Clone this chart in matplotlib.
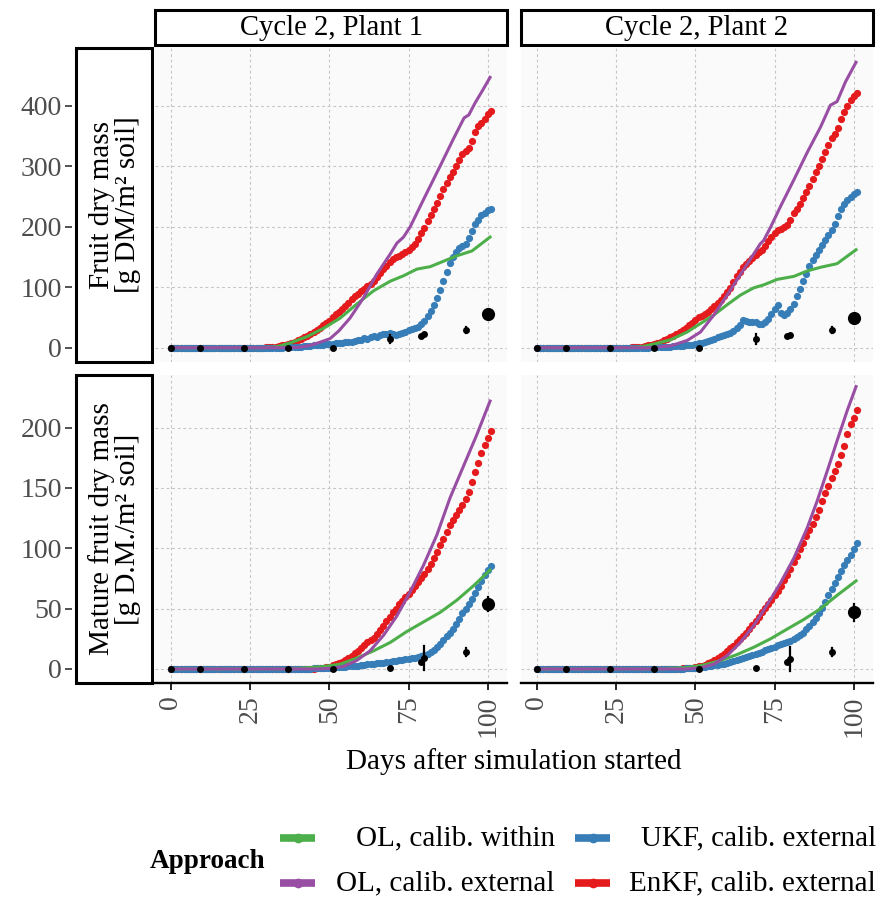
import matplotlib
matplotlib.use("Agg")
import matplotlib.pyplot as plt
from matplotlib.patches import Rectangle
from matplotlib.lines import Line2D

# ---------------- data ----------------
# daily series (index = day after simulation start)
c2p1_fruit_enkf = [0] * 30 + [
    0.5, 1, 1.5, 2, 3, 4, 5, 6.5, 8, 10,
    12, 14.5, 17, 20, 23, 26, 29.5, 33, 37, 41,
    45, 50, 55, 59, 64, 69, 74, 80, 85, 89,
    93, 97, 102, 106, 111, 117, 124, 130, 135, 141,
    146, 150, 152, 155, 158, 161, 166, 172, 180, 189,
    198, 209, 219, 229, 240, 251, 262, 273, 282, 291,
    300, 310, 320, 325, 330, 342, 356, 366, 372, 379,
    386, 391]
c2p1_fruit_ukf = [0] * 36 + [
    0.5, 1, 1, 1.5,
    2, 2, 3, 3, 3.5, 4, 4, 5, 5, 5.5,
    6, 6.5, 7, 8, 8, 9, 9.5, 10, 11, 12,
    13, 16, 15, 18, 20, 18, 21, 23, 22, 25,
    23, 21, 23, 24, 26, 29, 31, 33, 35, 39,
    45, 52, 60, 71, 82, 96, 110, 126, 140, 150,
    158, 165, 168, 172, 182, 193, 204, 212, 219, 223,
    227, 230]
c2p2_fruit_enkf = [0] * 30 + [
    0.5, 1, 1.5, 2, 3, 4, 5, 6, 8, 10,
    12, 14, 17, 20, 23, 26, 29, 32, 37, 41,
    46, 50, 53, 56, 59, 64, 69, 74, 79, 86,
    92, 99, 108, 118, 126, 133, 139, 144, 148, 153,
    158, 162, 168, 176, 183, 190, 195, 197, 199, 203,
    212, 222, 230, 238, 248, 258, 268, 279, 290, 300,
    312, 324, 336, 346, 354, 364, 378, 390, 400, 410,
    417, 422]
c2p2_fruit_ukf = [0] * 36 + [
    0.5, 1, 1, 1.5,
    1.5, 2, 2, 2.5, 3, 3, 3.5, 4, 4.5, 5,
    6, 7, 8, 10, 11, 13, 15, 17, 19, 21,
    23, 25, 28, 32, 38, 46, 44, 42, 43, 42,
    40, 40, 42, 48, 55, 64, 70, 57, 54, 57,
    64, 73, 86, 97, 110, 122, 135, 145, 154, 162,
    170, 178, 186, 195, 205, 218, 230, 238, 245, 250,
    255, 258]
c2p1_mature_enkf = [0] * 45 + [
    0.3, 0.5, 0.8, 1.2, 1.6,
    2, 3, 4, 5, 6, 7.5, 9, 11, 13, 15,
    17, 19.5, 22, 24, 26, 29, 32.5, 36, 40, 43.5,
    47, 50, 53.5, 56.5, 59.5, 62.5, 65.5, 69, 72, 75.5,
    79, 83, 87, 92, 97, 102.5, 108, 113.5, 119, 123.5,
    128, 132, 136, 141, 147, 155, 163, 171, 179, 185.5,
    191, 197]
c2p1_mature_ukf = [0] * 41 + [
    0.1, 0.2, 0.3, 0.4, 0.5, 0.6, 0.7, 0.8, 0.9,
    1.0, 1.1, 1.3, 1.5, 1.7, 1.9, 2.1, 2.3, 2.6, 2.9,
    3.2, 3.5, 3.8, 4.1, 4.4, 4.7, 5.0, 5.3, 5.7, 6.0,
    6.4, 6.8, 7.2, 7.6, 8.0, 8.5, 9, 9.5, 10, 10.7,
    11.5, 12.5, 14, 16, 18, 21, 24, 27, 29.5, 33,
    37, 41.5, 46, 50, 54, 58, 63, 68, 73, 78,
    82, 85]
c2p2_mature_enkf = [0] * 45 + [
    0.3, 0.5, 0.7, 1, 1.2,
    1.6, 2.2, 2.8, 3.6, 4.6, 5.8, 7.2, 8.8, 10.8, 12.8,
    14.8, 17, 19, 22, 24.5, 27, 30, 33, 36.5, 40,
    43.5, 47, 50.5, 54, 57.5, 61.5, 65, 69, 73.5, 78,
    83, 88.5, 94, 99.5, 104.5, 110, 115, 120, 126, 132,
    139, 146, 152, 158, 164, 170, 177, 185, 195, 203,
    208, 215]
c2p2_mature_ukf = [0] * 43 + [
    0.1, 0.2, 0.3, 0.4, 0.5, 0.6, 0.8,
    1.0, 1.2, 1.5, 1.8, 2.2, 2.6, 3.0, 3.5, 4.0, 4.5,
    5.0, 5.7, 6.4, 7.2, 8.0, 8.8, 9.6, 10.5, 11.5, 12.5,
    13.5, 14.5, 15.5, 16.5, 17.5, 18.5, 19.5, 20.5, 21.5, 22.5,
    23.5, 25, 26.5, 28, 30, 33, 36, 39, 42, 46,
    50.5, 55.5, 61, 66, 71, 76, 81, 86, 90, 94.5,
    99.5, 104]

# open-loop lines (read at knots)
c2p1_fruit_olext_x = [0, 38, 41, 44, 47, 50.2, 53, 56.5, 60.7, 65, 69.2, 71.3, 73.4, 75.5, 79.7, 85, 89.2, 92.5, 94, 96, 98.5, 100.7]
c2p1_fruit_olext_y = [0, 0, 1, 4, 9, 15, 28, 49, 82, 122, 155, 173, 183, 200, 245, 301, 346, 380, 385, 405, 427, 447]
c2p1_fruit_olwith_x = [0, 30, 33, 37.6, 42.8, 48.1, 53.4, 58.6, 63.9, 69.2, 73.4, 77.6, 81.8, 86, 90.2, 95, 100.7]
c2p1_fruit_olwith_y = [0, 0, 1, 8, 18, 32, 49, 72, 94, 110, 119, 130, 134, 143, 152, 160, 183]
c2p2_fruit_olext_x = [0, 35, 38, 42.1, 47.4, 51.6, 55.8, 60, 64.2, 68.4, 70.5, 71.5, 73.7, 76.8, 81.1, 85.3, 89.5, 92.6, 94.7, 97.4, 100.7]
c2p2_fruit_olext_y = [0, 0, 1, 3, 12, 26, 54, 87, 121, 155, 172, 177, 199, 233, 278, 323, 365, 401, 407, 440, 472]
c2p2_fruit_olwith_x = [0, 30, 33, 36.8, 42.1, 47.4, 51.6, 55.8, 60, 64.2, 68.4, 71.6, 75.8, 81.1, 85.3, 89.5, 94.7, 100.7]
c2p2_fruit_olwith_y = [0, 0, 1.5, 6, 13, 26, 40, 54, 71, 87, 99, 104, 113, 118, 127, 133, 139, 162]
c2p1_mature_olext_x = [0, 46, 50, 54.4, 58.6, 62.8, 67.1, 71.3, 75.5, 79.7, 83.9, 88.1, 92.3, 96.5, 100.7]
c2p1_mature_olext_y = [0, 0, 0.5, 2, 7, 15, 28, 44, 64, 86, 111, 142, 168, 194, 222]
c2p1_mature_olwith_x = [0, 38, 42.8, 48.1, 53.4, 58.6, 63.9, 69.2, 74.4, 79.7, 85, 90.2, 95.5, 100.7]
c2p1_mature_olwith_y = [0, 0, 1, 2, 4, 9, 15, 22, 31, 39, 47, 57, 69, 82]
c2p2_mature_olext_x = [0, 47, 51.6, 55.8, 60, 64.2, 68.4, 72.6, 76.8, 81.1, 85.3, 88.4, 91.6, 94.7, 97.9, 100.7]
c2p2_mature_olext_y = [0, 0, 1, 4, 11, 22, 36, 53, 71, 92, 117, 139, 164, 189, 214, 234]
c2p2_mature_olwith_x = [0, 40, 42.1, 47.4, 52.6, 57.9, 63.2, 68.4, 73.7, 78.9, 84.2, 89.5, 94.7, 100.7]
c2p2_mature_olwith_y = [0, 0, 0.5, 1.1, 3.3, 7, 12, 18, 25, 33, 41, 50, 61, 73]

# observations
obs_days = [0, 9, 23, 37, 51, 69, 79, 80, 93, 100]
obs_size = [5, 5, 5, 5, 5, 5, 5, 5, 5, 9.5]
c2p1_fruit_obs = [0, 0, 0, 0, 0, 14, 19, 22, 30, 56]
c2p1_fruit_err = [0, 0, 0, 0, 0, 7, 0, 2, 5, 0]
c2p2_fruit_obs = [0, 0, 0, 0, 0, 14, 19, 21, 29, 49]
c2p2_fruit_err = [0, 0, 0, 0, 0, 8, 0, 2, 5, 3]
c2p1_mature_obs = [0, 0, 0, 0, 0, 1, 6, 9, 14, 54]
c2p1_mature_err = [0, 0, 0, 0, 0, 0, 0, 10, 3, 6]
c2p2_mature_obs = [0, 0, 0, 0, 0, 1, 6, 8, 14, 47]
c2p2_mature_err = [0, 0, 0, 0, 0, 0, 0, 10, 3, 7]

col_titles = ["Cycle 2, Plant 1", "Cycle 2, Plant 2"]
row_titles = ["Fruit dry mass\n[g DM/m\u00b2 soil]", "Mature fruit dry mass\n[g D.M./m\u00b2 soil]"]
x_ticks = [0, 25, 50, 75, 100]
y_ticks_fruit = [0, 100, 200, 300, 400]
y_ticks_mature = [0, 50, 100, 150, 200]
approaches = ["OL, calib. within", "OL, calib. external", "UKF, calib. external", "EnKF, calib. external"]
colors = {"OL, calib. within": "#4DAF4A", "OL, calib. external": "#984EA3",
          "UKF, calib. external": "#377EB8", "EnKF, calib. external": "#E41A1C"}

# ---------------- figure ----------------
plt.rcParams["font.family"] = ["Liberation Serif", "DejaVu Serif"]
W, H = 876, 901
fig = plt.figure(figsize=(W / 100, H / 100), dpi=100)


def rect(x0, y0, x1, y1):
    return [x0 / W, 1 - y1 / H, (x1 - x0) / W, (y1 - y0) / H]


panel_x = [(155, 507), (521, 873)]
panel_y = [(48, 362), (375, 683)]
ylims = [(-23.6, 495.6), (-11.6, 243.6)]
yticks = [y_ticks_fruit, y_ticks_mature]

panels = {
    (0, 0): (c2p1_fruit_enkf, c2p1_fruit_ukf, c2p1_fruit_olext_x, c2p1_fruit_olext_y,
             c2p1_fruit_olwith_x, c2p1_fruit_olwith_y, c2p1_fruit_obs, c2p1_fruit_err),
    (0, 1): (c2p2_fruit_enkf, c2p2_fruit_ukf, c2p2_fruit_olext_x, c2p2_fruit_olext_y,
             c2p2_fruit_olwith_x, c2p2_fruit_olwith_y, c2p2_fruit_obs, c2p2_fruit_err),
    (1, 0): (c2p1_mature_enkf, c2p1_mature_ukf, c2p1_mature_olext_x, c2p1_mature_olext_y,
             c2p1_mature_olwith_x, c2p1_mature_olwith_y, c2p1_mature_obs, c2p1_mature_err),
    (1, 1): (c2p2_mature_enkf, c2p2_mature_ukf, c2p2_mature_olext_x, c2p2_mature_olext_y,
             c2p2_mature_olwith_x, c2p2_mature_olwith_y, c2p2_mature_obs, c2p2_mature_err),
}

for (r, c), (enkf, ukf, oex, oey, owx, owy, obs, err) in panels.items():
    ax = fig.add_axes(rect(panel_x[c][0], panel_y[r][0], panel_x[c][1], panel_y[r][1]))
    ax.set_facecolor("#FAFAFA")
    ax.set_xlim(-5.05, 106.05)
    ax.set_ylim(*ylims[r])
    ax.set_xticks(x_ticks)
    ax.set_yticks(yticks[r])
    ax.grid(True, color="#C6C6C6", linestyle=(0, (2.5, 2.5)), linewidth=0.8)
    ax.set_axisbelow(True)
    for s in ["top", "right"]:
        ax.spines[s].set_visible(False)
    ax.spines["left"].set_visible(False)
    if r == 0:
        ax.spines["bottom"].set_visible(False)
        ax.tick_params(axis="x", bottom=False, labelbottom=False)
    else:
        ax.spines["bottom"].set_linewidth(1.7)
        ax.tick_params(axis="x", length=5, width=1.2, labelsize=20, labelcolor="#4D4D4D",
                       labelrotation=90, pad=4)
    if c == 0:
        ax.spines["left"].set_position(("outward", 60))
        ax.tick_params(axis="y", length=5, width=1.2, labelsize=20, labelcolor="#4D4D4D",
                       color="#333333", pad=2)
    else:
        ax.tick_params(axis="y", left=False, labelleft=False)

    ax.plot(range(len(enkf)), enkf, "o", color=colors["EnKF, calib. external"], ms=5.2, mew=0, zorder=3)
    ax.plot(range(len(ukf)), ukf, "o", color=colors["UKF, calib. external"], ms=5.2, mew=0, zorder=3)
    ax.plot(owx, owy, "-", color=colors["OL, calib. within"], lw=2.2, zorder=4)
    ax.plot(oex, oey, "-", color=colors["OL, calib. external"], lw=2.2, zorder=4)
    for d, v, e, s in zip(obs_days, obs, err, obs_size):
        if e > 0:
            ax.plot([d, d], [v - e, v + e], color="black", lw=1.6, zorder=5)
        ax.plot([d], [v], "o", color="black", ms=s, mew=0, zorder=6)

# column strips
for c in range(2):
    x0, x1 = panel_x[c]
    fig.patches.append(Rectangle((x0 / W, 1 - 45 / H), (x1 - x0) / W, 35 / H,
                                 transform=fig.transFigure, facecolor="white",
                                 edgecolor="black", linewidth=2.2))
    fig.text((x0 + x1) / 2 / W, 1 - 28 / H, col_titles[c], ha="center", va="center", fontsize=20.6)

# row strips
for r in range(2):
    y0, y1 = panel_y[r]
    fig.patches.append(Rectangle((76 / W, 1 - y1 / H), 76 / W, (y1 - y0) / H,
                                 transform=fig.transFigure, facecolor="white",
                                 edgecolor="black", linewidth=2.2))
    fig.text(115 / W, 1 - (y0 + y1) / 2 / H, row_titles[r], ha="center", va="center",
             rotation=90, fontsize=21, linespacing=1.0, multialignment="center")

# x label
fig.text(514 / W, 1 - 762 / H, "Days after simulation started", ha="center", va="center", fontsize=21)

# legend
fig.text(150 / W, 1 - 862 / H, "Approach", ha="left", va="center", fontsize=19.5, fontweight="bold")
legend_pos = {
    "OL, calib. within": (280, 838, 555),
    "OL, calib. external": (280, 883, 555),
    "UKF, calib. external": (575, 838, 876),
    "EnKF, calib. external": (575, 883, 876),
}
for name in approaches:
    kx, ky, tx = legend_pos[name]
    fig.add_artist(Line2D([kx / W, (kx + 35) / W], [1 - ky / H, 1 - ky / H], transform=fig.transFigure,
                          color=colors[name], lw=5.5, solid_capstyle="butt"))
    fig.add_artist(Line2D([(kx + 17.5) / W], [1 - ky / H], transform=fig.transFigure,
                          color=colors[name], marker="o", ms=7, mew=0))
    fig.text(tx / W, 1 - ky / H, name, ha="right", va="center", fontsize=21)

fig.savefig("out.png", dpi=100, facecolor="white")
